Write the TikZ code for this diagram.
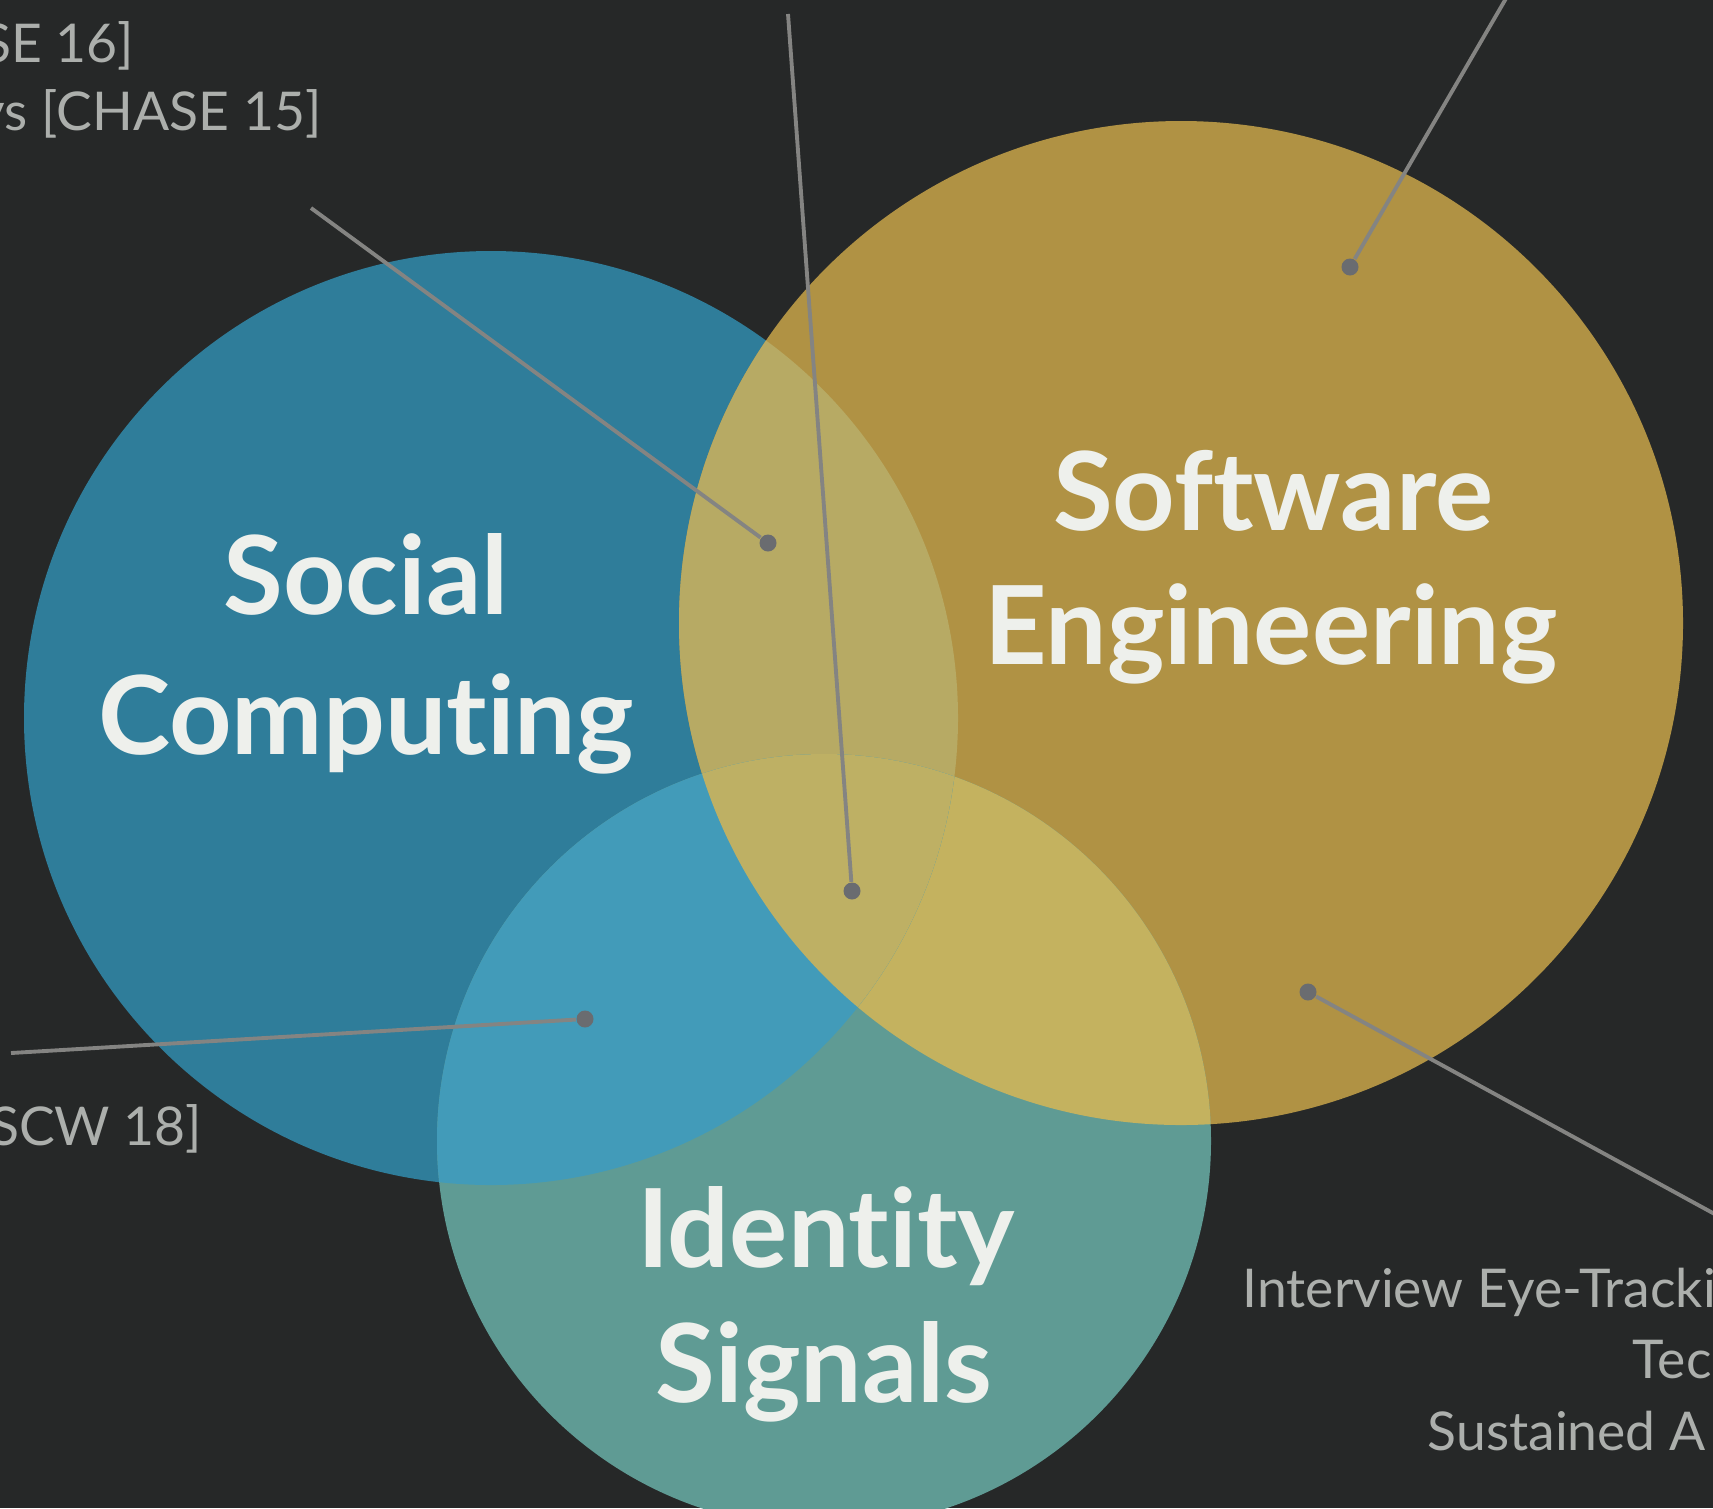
\documentclass[tikz,border=0pt]{standalone}
\usepackage{fontspec}
\setmainfont[Ligatures={NoCommon,NoRequired,NoContextual}]{Lato}
\definecolor{bgDark}{RGB}{38,40,40}
\definecolor{socBlue}{RGB}{47,125,154}
\definecolor{softGold}{RGB}{176,146,68}
\definecolor{idTeal}{RGB}{95,155,148}
\definecolor{mixSocSoft}{RGB}{183,170,100}
\definecolor{mixSocId}{RGB}{66,155,185}
\definecolor{mixSoftId}{RGB}{196,178,95}
\definecolor{mixAll}{RGB}{190,176,100}
\definecolor{txtWhite}{RGB}{238,240,236}
\definecolor{txtGrey}{RGB}{172,175,172}
\definecolor{leadGrey}{RGB}{132,132,130}
\definecolor{dotGrey}{RGB}{106,108,112}
\usetikzlibrary{positioning}

\begin{document}
\begin{tikzpicture}[
  x=0.01cm, y=-0.01cm,
  title/.style={text=txtWhite, anchor=base, inner sep=0pt,
                font=\fontsize{31}{40}\selectfont\bfseries},
  note/.style={text=txtGrey, inner sep=0pt, font=\fontsize{15.2}{20}\selectfont},
  lead/.style={draw=leadGrey, line width=1.1pt},
  dot/.style={circle, fill=dotGrey, inner sep=0pt, minimum size=0.17cm}
]

\fill[bgDark] (0,0) rectangle (1713,1508);
\useasboundingbox (0,0) rectangle (1713,1508);

% Circulos
\fill[socBlue] (491,718) circle (467);
\fill[softGold] (1181,623) circle (502);
\fill[idTeal] (824,1141) circle (387);

% Intersecciones
\begin{scope}
  \clip (1181,623) circle (502);
  \fill[mixSoftId] (824,1141) circle (387);
\end{scope}
\begin{scope}
  \clip (491,718) circle (467);
  \fill[mixSocSoft] (1181,623) circle (502);
  \fill[mixSocId] (824,1141) circle (387);
  \clip (1181,623) circle (502);
  \fill[mixAll] (824,1141) circle (387);
\end{scope}

% Titulos
\node[title] (social) at (366,614) {Social};
\node[title] (computing) at (366,754) {Computing};
\node[title] (software) at (1273,530) {Software};
\node[title] (engineering) at (1271,664) {Engineering};
\node[title] (identity) at (826,1267) {Identity};
\node[title] (signals) at (824,1402) {Signals};

% Notas
\node[note, anchor=base east] (n1) at (135,62) {SE 16]};
\node[note, anchor=base east] (n2) at (322,130) {ys [CHASE 15]};
\node[note, anchor=base east] (n3) at (203,1145) {SCW 18]};
\node[note, anchor=base west] (n4) at (1242,1307) {Interview Eye-Tracki};
\node[note, anchor=base west] (n5) at (1632,1378) {Tec};
\node[note, anchor=base west] (n6) at (1427,1450) {Sustained A};

% Lineas
\coordinate (e1) at (311,208);
\coordinate (e2) at (788,14);
\coordinate (e3) at (1508,-5);
\coordinate (e4) at (11,1053);
\coordinate (e5) at (1722,1218);

\node[dot] (d1) at (768,543) {};
\node[dot] (d2) at (852,891) {};
\node[dot] (d3) at (1350,267) {};
\node[dot] (d4) at (585,1019) {};
\node[dot] (d5) at (1308,992) {};

\draw[lead] (e1) -- (d1);
\draw[lead] (e2) -- (d2);
\draw[lead] (e3) -- (d3);
\draw[lead] (e4) -- (d4);
\draw[lead] (d5) -- (e5);

\end{tikzpicture}
\end{document}
